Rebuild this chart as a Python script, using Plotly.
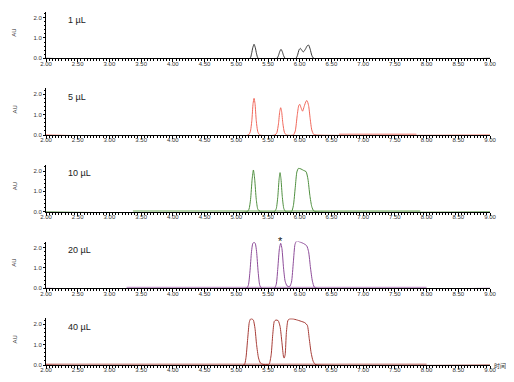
import plotly.graph_objects as go

# ---------------- data ----------------
labels = ["1 µL", "5 µL", "10 µL", "20 µL", "40 µL"]
colors = ["#3a3a3a", "#f0675a", "#4f8f3f", "#8d4c99", "#a63c36"]
faint_colors = ["#9a9a9a", "#f6aaa3", "#9cc48f", "#c39acb", "#d49a96"]

t1 = [2.00, 5.215, 5.24, 5.26, 5.28, 5.30, 5.32, 5.345, 5.64, 5.665, 5.685, 5.705, 5.725,
      5.745, 5.77, 5.94, 5.965, 5.99, 6.01, 6.035, 6.06, 6.09, 6.12, 6.14, 6.165, 6.19, 6.22, 9.00]
a1 = [0.00, 0.00, 0.22, 0.52, 0.69, 0.52, 0.22, 0.00, 0.00, 0.14, 0.33, 0.44, 0.33,
      0.14, 0.00, 0.00, 0.15, 0.42, 0.49, 0.38, 0.32, 0.45, 0.62, 0.65, 0.45, 0.15, 0.00, 0.00]

t2 = [2.00, 5.19, 5.22, 5.245, 5.265, 5.28, 5.295, 5.315, 5.34, 5.37, 5.61, 5.64, 5.665, 5.685,
      5.70, 5.715, 5.735, 5.76, 5.79, 5.90, 5.93, 5.96, 5.985, 6.00, 6.02, 6.045, 6.07, 6.10,
      6.115, 6.14, 6.165, 6.19, 6.22, 6.26, 9.00]
a2 = [0.00, 0.00, 0.15, 0.70, 1.55, 1.80, 1.55, 0.70, 0.15, 0.00, 0.00, 0.12, 0.55, 1.15,
      1.34, 1.15, 0.55, 0.12, 0.00, 0.00, 0.20, 0.95, 1.45, 1.51, 1.35, 1.17, 1.40, 1.66,
      1.69, 1.45, 0.80, 0.25, 0.03, 0.00, 0.00]

t3 = [2.00, 5.17, 5.20, 5.225, 5.25, 5.27, 5.29, 5.315, 5.34, 5.38, 5.60, 5.63, 5.655, 5.675,
      5.69, 5.705, 5.725, 5.75, 5.78, 5.87, 5.90, 5.93, 5.955, 5.98, 6.02, 6.06, 6.10, 6.13,
      6.16, 6.19, 6.22, 6.26, 9.00]
a3 = [0.00, 0.00, 0.12, 0.60, 1.60, 2.05, 1.60, 0.60, 0.12, 0.00, 0.00, 0.15, 0.75, 1.60,
      1.92, 1.60, 0.75, 0.15, 0.00, 0.00, 0.30, 1.20, 1.95, 2.13, 2.10, 2.03, 1.97, 1.60,
      0.80, 0.25, 0.04, 0.00, 0.00]

t4 = [2.00, 5.16, 5.19, 5.215, 5.24, 5.26, 5.28, 5.30, 5.32, 5.345, 5.37, 5.40, 5.60, 5.63,
      5.655, 5.68, 5.70, 5.72, 5.745, 5.77, 5.80, 5.84, 5.87, 5.90, 5.925, 5.95, 6.00, 6.06,
      6.11, 6.14, 6.17, 6.20, 6.23, 6.27, 9.00]
a4 = [0.00, 0.00, 0.15, 0.80, 1.80, 2.20, 2.26, 2.20, 1.80, 0.80, 0.15, 0.00, 0.00, 0.20,
      1.00, 1.95, 2.21, 1.95, 1.00, 0.35, 0.12, 0.08, 0.30, 1.30, 2.15, 2.32, 2.28, 2.20,
      2.09, 1.80, 1.00, 0.35, 0.06, 0.00, 0.00]

t5 = [2.00, 5.12, 5.15, 5.18, 5.205, 5.225, 5.25, 5.27, 5.295, 5.32, 5.35, 5.38, 5.42, 5.50,
      5.52, 5.55, 5.575, 5.60, 5.625, 5.66, 5.69, 5.72, 5.745, 5.755, 5.77, 5.79, 5.815, 5.84,
      5.90, 5.95, 6.02, 6.08, 6.12, 6.15, 6.18, 6.21, 6.24, 6.28, 9.00]
a5 = [0.00, 0.00, 0.30, 1.30, 2.10, 2.26, 2.26, 2.20, 1.80, 1.00, 0.35, 0.10, 0.03, 0.02,
      0.05, 0.50, 1.50, 2.15, 2.21, 2.18, 1.90, 1.10, 0.40, 0.34, 0.50, 1.60, 2.20, 2.26,
      2.26, 2.22, 2.15, 2.08, 1.95, 1.30, 0.60, 0.20, 0.04, 0.00, 0.00]

times = [t1, t2, t3, t4, t5]
signals = [a1, a2, a3, a4, a5]

# faint residual baseline bands (start, end, level)
band_t = [[2.00, 9.00], [6.62, 7.84], [3.37, 7.90], [3.27, 8.00], [2.00, 8.00]]
band_a = [[0.0, 0.0], [0.03, 0.03], [0.02, 0.02], [0.03, 0.03], [0.02, 0.02]]

x_ticks = [2.0, 2.5, 3.0, 3.5, 4.0, 4.5, 5.0, 5.5, 6.0, 6.5, 7.0, 7.5, 8.0, 8.5, 9.0]
y_ticks = [0.0, 1.0, 2.0]
marked_peak_time = 5.70

# ---------------- layout geometry (page pixels; page body has an 8px margin) ----------------
OFF = 8
W, H = 514 - 2 * OFF, 382 - 2 * OFF
x_left, x_right = 46 - OFF, 490 - OFF
bottoms = [b - OFF for b in [58.3, 135.0, 211.7, 288.3, 365.0]]
panel_h = 46.8

fig = go.Figure()
layout = dict(
    width=W, height=H, autosize=False,
    margin=dict(l=0, r=0, t=0, b=0),
    paper_bgcolor="white", plot_bgcolor="white",
    showlegend=False,
    font=dict(family="Liberation Sans, Arial, sans-serif", size=6, color="#333333"),
)
annotations = []

for i in range(5):
    n = i + 1
    xa = "x" if n == 1 else f"x{n}"
    ya = "y" if n == 1 else f"y{n}"
    if i > 0:
        fig.add_trace(go.Scatter(x=band_t[i], y=band_a[i], mode="lines",
                                 line=dict(color=faint_colors[i], width=2),
                                 xaxis=xa, yaxis=ya, hoverinfo="skip"))
    fig.add_trace(go.Scatter(x=times[i], y=signals[i], mode="lines",
                             line=dict(color=colors[i], width=1, shape="spline", smoothing=0.6),
                             xaxis=xa, yaxis=ya))
    b = bottoms[i]
    dom_y = [1 - b / H, 1 - (b - panel_h) / H]
    axis_common = dict(showline=True, linecolor="black", linewidth=1, ticks="outside",
                       tickcolor="black", showgrid=False, zeroline=False, automargin=False,
                       tickfont=dict(size=6, color="#333333"))
    layout["xaxis" if n == 1 else f"xaxis{n}"] = dict(
        domain=[x_left / W, x_right / W], range=[2.0, 9.0], anchor=ya,
        tickvals=x_ticks, tickformat=".2f", ticklen=3, tickwidth=1, ticklabelstandoff=-4,
        minor=dict(dtick=0.05, tick0=2.0, ticks="outside", ticklen=2, tickcolor="black", tickwidth=0.8),
        **axis_common)
    layout["yaxis" if n == 1 else f"yaxis{n}"] = dict(
        domain=dom_y, range=[0, 2.3], anchor=xa,
        tickvals=y_ticks, tickformat=".1f", ticklen=2, tickwidth=1,
        minor=dict(dtick=0.2, tick0=0, ticks="outside", ticklen=1.5, tickcolor="black", tickwidth=0.8),
        **axis_common)
    annotations.append(dict(text="AU", xref="paper", yref="paper", x=(14.5 - OFF) / W,
                            y=1 - (b - 25) / H, textangle=-90, xanchor="center", yanchor="middle",
                            showarrow=False, font=dict(size=6, color="#333333")))
    annotations.append(dict(text=labels[i], xref="paper", yref="paper",
                            x=(66 - OFF) / W, y=1 - (b - 38.5) / H, xanchor="left", yanchor="middle",
                            showarrow=False, font=dict(size=9, color="#222222")))

# asterisk above the marked peak in the 20 µL panel
annotations.append(dict(text="*", xref="x4", yref="paper", x=marked_peak_time,
                        y=1 - (240.5 - OFF) / H, yanchor="middle", xanchor="center",
                        showarrow=False, font=dict(size=11, color="#111111")))
annotations.append(dict(text="时间", xref="paper", yref="paper", x=(492 - OFF) / W,
                        y=1 - (365.5 - OFF) / H,
                        xanchor="left", yanchor="middle", showarrow=False,
                        font=dict(size=6, family="Noto Sans CJK SC", color="#333333")))
layout["annotations"] = annotations
fig.update_layout(**layout)

fig.write_html("out.html")
